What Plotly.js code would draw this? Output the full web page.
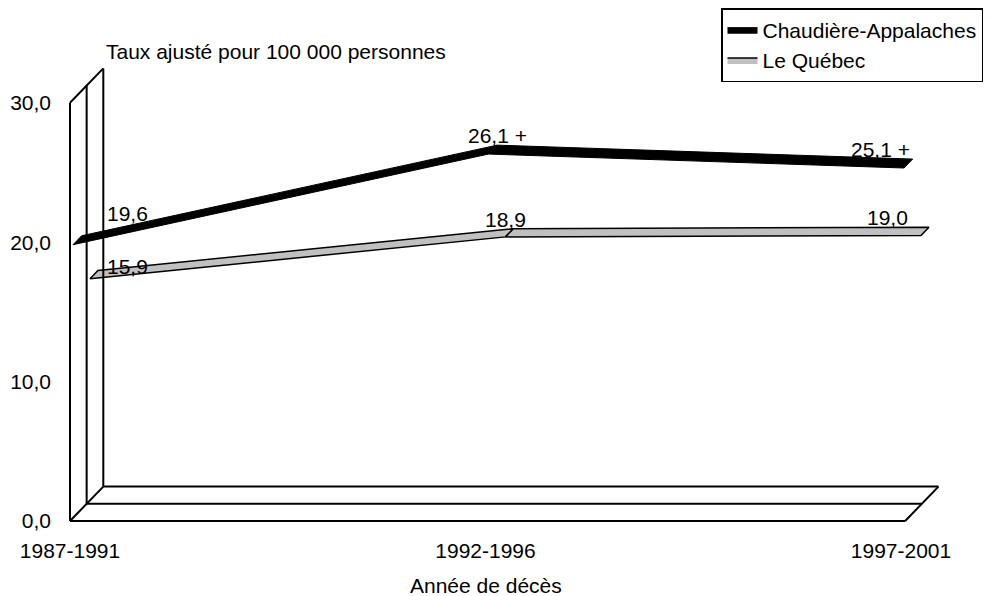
<!DOCTYPE html>
<html><head><meta charset="utf-8">
<script src="https://cdn.plot.ly/plotly-3.0.1.min.js"></script>
<style>html,body{margin:0;padding:0;background:#fff;overflow:hidden}#chart{width:990px;height:596px}</style>
</head><body><div id="chart"></div>
<script>
// ---- data ----
const categories = ['1987-1991', '1992-1996', '1997-2001'];
const chaudiereValues = [19.6, 26.1, 25.1];
const quebecValues = [15.9, 18.9, 19.0];
const chaudiereMarks = ['', ' +', ' +'];
const quebecMarks = ['', '', ''];
const seriesNames = ['Chaudière-Appalaches', 'Le Québec'];
const yTickValues = [0, 10, 20, 30];
const yTickLabels = ['0,0', '10,0', '20,0', '30,0'];
const yTitle = 'Taux ajusté pour 100 000 personnes';
const xTitle = 'Année de décès';

// ---- geometry / style ----
const FONT = 'Liberation Sans, Arial, sans-serif';
const FS = 21;
const W = 990, H = 596;
const M = {l: 55, r: 30, t: 40, b: 66, autoexpand: false};
const PX_PER_CAT = 415.5, PX_PER_UNIT = 13.94;
const ORIGIN_X = 70, ORIGIN_Y = 521;
const DX = 33.3 / PX_PER_CAT, DY = 34.4 / PX_PER_UNIT;
const yMax = yTickValues[yTickValues.length - 1];
const floorEnd = categories.length - 1 + 0.01;
const xRange = [(M.l - ORIGIN_X) / PX_PER_CAT, (W - M.r - ORIGIN_X) / PX_PER_CAT];
const yRange = [(ORIGIN_Y - (H - M.b)) / PX_PER_UNIT, (ORIGIN_Y - M.t) / PX_PER_UNIT];
const plotW = W - M.l - M.r, plotH = H - M.t - M.b;
const pxToPaperX = px => (px - M.l) / plotW;
const pxToPaperY = py => (H - M.b - py) / plotH;

const series = [
  {name: seriesNames[0], values: chaudiereValues, marks: chaudiereMarks, fill: '#000000', lw: 1, depth: [0.09, 0.35],
   shifts: [[57, 34], [12, 22], [-21, 22]]},
  {name: seriesNames[1], values: quebecValues, marks: quebecMarks, fill: '#c0c0c0', lw: 1.5, depth: [0.60, 0.84],
   shifts: [[57, 33], [19.5, 38.5], [-14, 38.6]]}
];

const traces = [];
const annotations = [];
series.forEach((s, si) => {
  const [d0, d1] = s.depth;
  for (let i = 0; i < s.values.length - 1; i++) {
    const xs = [i + d0 * DX, i + 1 + d0 * DX, i + 1 + d1 * DX, i + d1 * DX, i + d0 * DX];
    const ys = [s.values[i] + d0 * DY, s.values[i + 1] + d0 * DY, s.values[i + 1] + d1 * DY, s.values[i] + d1 * DY, s.values[i] + d0 * DY];
    traces.push({
      type: 'scatter', mode: 'lines', x: xs, y: ys, fill: 'toself', fillcolor: s.fill,
      line: {color: '#000', width: s.lw}, name: s.name, legendgroup: 'g' + si,
      showlegend: i === 0, hoverinfo: 'skip'
    });
  }
  s.values.forEach((v, i) => {
    annotations.push({
      xref: 'x', yref: 'y', x: i, y: v, text: v.toFixed(1).replace('.', ',') + s.marks[i],
      showarrow: false, xshift: s.shifts[i][0], yshift: s.shifts[i][1],
      font: {family: FONT, size: FS, color: '#000'}
    });
  });
});

// walls and floor (3D frame)
const fx = [], fy = [];
const seg = (x0, y0, x1, y1) => { fx.push(x0, x1, null); fy.push(y0, y1, null); };
[0, 0.5, 1].forEach(d => {
  seg(d * DX, d * DY, d * DX, yMax + d * DY);            // wall verticals
  seg(d * DX, d * DY, floorEnd + d * DX, d * DY);        // floor horizontals
});
seg(0, yMax, DX, yMax + DY);
seg(0, 0, DX, DY);
seg(floorEnd, 0, floorEnd + DX, DY);
traces.push({type: 'scatter', mode: 'lines', x: fx, y: fy, line: {color: '#000', width: 2},
  showlegend: false, hoverinfo: 'skip'});

annotations.push({
  xref: 'paper', yref: 'paper', x: pxToPaperX(104), y: pxToPaperY(52), xanchor: 'left', yanchor: 'middle',
  text: yTitle, showarrow: false, font: {family: FONT, size: FS, color: '#000'}
});
annotations.push({
  xref: 'x', yref: 'paper', x: 1, y: pxToPaperY(585), xanchor: 'center', yanchor: 'middle',
  text: xTitle, showarrow: false, font: {family: FONT, size: FS, color: '#000'}
});

const layout = {
  width: W, height: H, margin: M, paper_bgcolor: '#fff', plot_bgcolor: '#fff',
  font: {family: FONT, size: FS, color: '#000'},
  xaxis: {range: xRange, tickvals: categories.map((c, i) => i), ticktext: categories,
    showgrid: false, zeroline: false, showline: false, ticks: '', ticklabelstandoff: 6, fixedrange: true},
  yaxis: {range: yRange, tickvals: yTickValues, ticktext: yTickLabels,
    showgrid: false, zeroline: false, showline: false, ticks: '', ticklabelstandoff: 3, fixedrange: true},
  legend: {x: pxToPaperX(721), y: pxToPaperY(8), xanchor: 'left', yanchor: 'top',
    bgcolor: '#fff', bordercolor: '#000', borderwidth: 1.5, traceorder: 'grouped', tracegroupgap: 0,
    itemwidth: 30, font: {family: FONT, size: FS, color: '#000'}},
  annotations: annotations,
  showlegend: true
};

Plotly.newPlot('chart', traces, layout, {staticPlot: true, displayModeBar: false});
</script>
</body></html>
